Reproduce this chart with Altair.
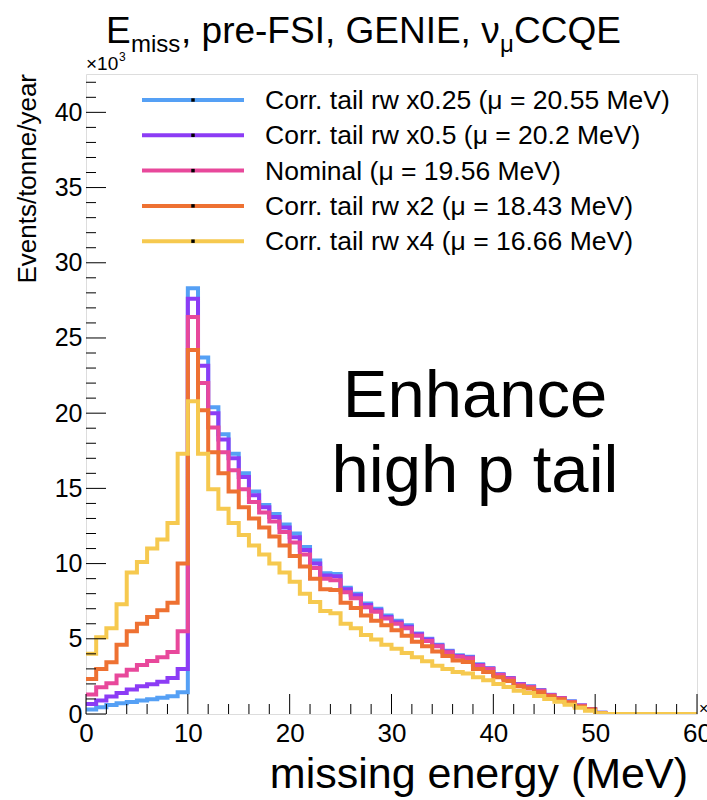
import altair as alt
import pandas as pd

# ---------------- data (values in units of 10^3 events/tonne/year, 1 MeV bins 0..60) -----
bin_lo = list(range(60))

labels = [
    "Corr. tail rw x0.25 (\u03bc = 20.55 MeV)",
    "Corr. tail rw x0.5 (\u03bc = 20.2 MeV)",
    "Nominal (\u03bc = 19.56 MeV)",
    "Corr. tail rw x2 (\u03bc = 18.43 MeV)",
    "Corr. tail rw x4 (\u03bc = 16.66 MeV)",
]
colors = ["#55A0F5", "#8C3CF5", "#E8489B", "#EE7132", "#F6C94F"]

rw_x025 = [0.30, 0.45, 0.60, 0.72, 0.80, 0.90, 0.98, 1.08, 1.18, 1.45,
           28.3, 23.7, 20.4, 18.6, 17.3, 16.0, 14.8, 13.9, 13.3, 12.6,
           12.0, 11.1, 10.2, 9.35, 9.3, 8.4, 8.0, 7.35, 7.0, 6.55,
           6.2, 5.9, 5.35, 5.0, 4.6, 4.2, 3.9, 3.8, 3.3, 3.05,
           2.65, 2.4, 2.0, 1.85, 1.6, 1.28, 1.07, 0.85, 0.57, 0.33,
           0.08, 0, 0, 0, 0, 0, 0, 0, 0, 0]
rw_x05 = [0.67, 0.90, 1.16, 1.40, 1.63, 1.84, 1.98, 2.15, 2.40, 3.00,
          27.6, 23.15, 20.0, 18.25, 17.0, 15.75, 14.55, 13.75, 13.1, 12.4,
          11.75, 10.9, 10.0, 9.2, 9.15, 8.3, 7.9, 7.25, 6.9, 6.45,
          6.1, 5.8, 5.3, 4.95, 4.55, 4.15, 3.85, 3.75, 3.25, 3.02,
          2.62, 2.38, 1.98, 1.82, 1.57, 1.27, 1.06, 0.82, 0.56, 0.32,
          0.08, 0, 0, 0, 0, 0, 0, 0, 0, 0]
nominal = [1.30, 1.78, 2.05, 2.56, 2.95, 3.25, 3.53, 3.78, 4.13, 5.50,
           26.4, 22.0, 19.05, 17.4, 16.2, 14.95, 14.1, 13.4, 12.8, 12.1,
           11.4, 10.6, 9.7, 9.0, 8.9, 8.1, 7.7, 7.1, 6.8, 6.35,
           6.0, 5.7, 5.2, 4.85, 4.5, 4.1, 3.8, 3.7, 3.2, 3.0,
           2.6, 2.35, 1.95, 1.8, 1.55, 1.25, 1.05, 0.8, 0.55, 0.32,
           0.07, 0, 0, 0, 0, 0, 0, 0, 0, 0]
rw_x2 = [2.33, 3.0, 3.44, 4.6, 5.5, 6.0, 6.45, 6.9, 7.4, 10.0,
         24.2, 20.2, 17.4, 16.0, 14.8, 13.75, 13.0, 12.4, 11.8, 11.2,
         10.5, 9.8, 9.0, 8.3, 8.25, 7.4, 7.05, 6.55, 6.2, 5.9,
         5.56, 5.2, 4.8, 4.5, 4.15, 3.85, 3.55, 3.45, 3.0, 2.8,
         2.45, 2.2, 1.85, 1.7, 1.45, 1.18, 0.98, 0.76, 0.5, 0.3,
         0.06, 0, 0, 0, 0, 0, 0, 0, 0, 0]
rw_x4 = [4.0, 5.1, 5.7, 7.3, 9.4, 10.1, 11.0, 11.6, 12.7, 17.3,
         20.8, 17.3, 14.95, 13.65, 12.7, 11.9, 11.2, 10.6, 10.0, 9.4,
         8.8, 8.0, 7.45, 6.85, 6.7, 6.0, 5.7, 5.25, 4.95, 4.6,
         4.33, 4.05, 3.78, 3.5, 3.2, 3.0, 2.8, 2.7, 2.45, 2.25,
         2.0, 1.8, 1.55, 1.4, 1.2, 1.0, 0.82, 0.62, 0.42, 0.22,
         0.05, 0, 0, 0, 0, 0, 0, 0, 0, 0]
series = [rw_x025, rw_x05, nominal, rw_x2, rw_x4]

x_major = [0, 10, 20, 30, 40, 50, 60]
x_minor = [v for v in range(2, 60, 2) if v % 10 != 0]
y_major = [0, 5, 10, 15, 20, 25, 30, 35, 40]
y_minor = [v for v in range(1, 43) if v % 5 != 0]

# ---------------- layout ----------------
W, H = 611, 640
FONT = "Liberation Sans"
xs = alt.Scale(domain=[0, 60], nice=False, zero=False)
ys = alt.Scale(domain=[0, 42.55], nice=False, zero=False)

layers = []

# histogram outlines
for name, col, vals in zip(labels, colors, series):
    df = pd.DataFrame({"x": bin_lo + [60], "y": vals + [vals[-1]]})
    layers.append(
        alt.Chart(df).mark_line(interpolate="step-after", strokeWidth=4, color=col, clip=True).encode(
            x=alt.X("x:Q", scale=xs,
                    axis=alt.Axis(values=x_major, ticks=False, domain=False, grid=False, title=None,
                                  labelFontSize=26, labelFont=FONT, labelColor="black",
                                  labelPadding=6, labelFlush=False)),
            y=alt.Y("y:Q", scale=ys,
                    axis=alt.Axis(values=y_major, ticks=False, domain=False, grid=False, title=None,
                                  labelFontSize=25, labelFont=FONT, labelColor="black",
                                  labelPadding=4)),
        )
    )

# inward ticks (ROOT style)
for vals, ln in ((x_major, 20), (x_minor, 10)):
    layers.append(alt.Chart(pd.DataFrame({"t": vals})).mark_rule(color="black", strokeWidth=1).encode(
        x=alt.X("t:Q", scale=xs), y=alt.value(H), y2=alt.value(H - ln)))
for vals, ln in ((y_major, 20), (y_minor, 10)):
    layers.append(alt.Chart(pd.DataFrame({"t": vals})).mark_rule(color="black", strokeWidth=1).encode(
        y=alt.Y("t:Q", scale=ys), x=alt.value(0), x2=alt.value(ln)))

# legend
for i, (name, col) in enumerate(zip(labels, colors)):
    yy = 26 + 35.3 * i
    d = pd.DataFrame({"t": [name]})
    layers.append(alt.Chart(d).mark_rule(color=col, strokeWidth=4).encode(
        x=alt.value(56), x2=alt.value(158), y=alt.value(yy)))
    layers.append(alt.Chart(d).mark_square(color="black", size=12, opacity=1).encode(
        x=alt.value(107), y=alt.value(yy)))
    layers.append(alt.Chart(d).mark_text(align="left", baseline="middle", fontSize=26.5, font=FONT,
                                         color="black").encode(
        x=alt.value(179), y=alt.value(yy + 1), text="t:N"))


def txt(s, x, y, size, align="left", baseline="alphabetic", angle=0):
    kw = dict(align=align, baseline=baseline, fontSize=size, font=FONT, color="black")
    if angle:
        kw["angle"] = angle
    return alt.Chart(pd.DataFrame({"t": [s]})).mark_text(**kw).encode(
        x=alt.value(x), y=alt.value(y), text="t:N")


# title with subscripts
layers += [
    txt("E", 20, -31, 37),
    txt("miss", 45, -22, 24),
    txt(", pre-FSI, GENIE, \u03bd", 95, -31, 37),
    txt("\u03bc", 414, -22, 24),
    txt("CCQE", 428, -31, 37),
    txt("\u00d710", 0, -4, 19),
    txt("3", 33, -13, 12),
    txt("\u00d7", 613, 640, 16),
    txt("Events/tonne/year", -58, 0, 26, align="right", baseline="middle", angle=270),
    txt("missing energy (MeV)", 602, 714, 43, align="right"),
    txt("Enhance", 389, 343, 67, align="center"),
    txt("high p tail", 389, 418, 67, align="center"),
]

chart = alt.layer(*layers).properties(
    width=W, height=H,
    padding={"left": 86, "top": 74, "right": 10, "bottom": 86},
    autosize=alt.AutoSizeParams(type="none"),
    background="white",
).configure_view(stroke="black", strokeWidth=1).configure(font=FONT)

chart.save("out.html", embed_options={"renderer": "svg", "actions": False})
